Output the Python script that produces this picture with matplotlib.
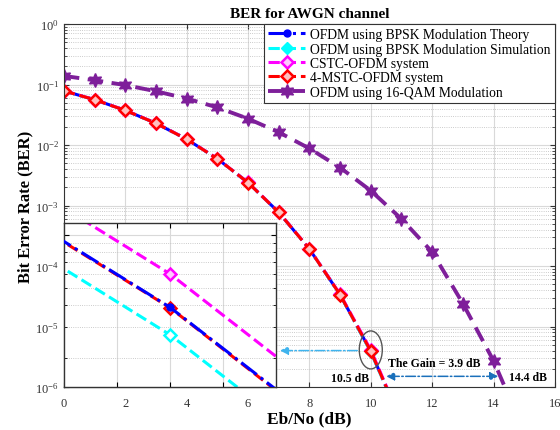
import matplotlib
matplotlib.use('Agg')
import matplotlib.pyplot as plt
import matplotlib.transforms as mtransforms
from matplotlib.patches import Ellipse
from matplotlib.ticker import LogLocator, NullFormatter, FixedLocator

plt.rcParams['font.family'] = ['Liberation Serif', 'DejaVu Serif']
plt.rcParams['mathtext.fontset'] = 'custom'
plt.rcParams['mathtext.rm'] = 'Liberation Serif'

# Eb/No axis (dB)
snr = [0, 1, 2, 3, 4, 5, 6, 7, 8, 9, 10, 11]
snr_qam = [0, 1, 2, 3, 4, 5, 6, 7, 8, 9, 10, 11, 12, 13, 14, 15]

# BER values
ber_theory = [0.0786, 0.0563, 0.0375, 0.0229, 0.0125, 0.00595, 0.00239,
              7.73e-4, 1.91e-4, 3.36e-5, 3.87e-6, 2.61e-7]
ber_sim = [0.0788, 0.0561, 0.0376, 0.0228, 0.0126, 0.00593, 0.00240,
           7.70e-4, 1.92e-4, 3.34e-5, 3.80e-6, 2.55e-7]
ber_cstc = [0.0790, 0.0565, 0.0377, 0.0230, 0.0126, 0.00597, 0.00241,
            7.78e-4, 1.93e-4, 3.42e-5, 4.10e-6, 2.70e-7]
ber_mstc = [0.0785, 0.0562, 0.0374, 0.0229, 0.0125, 0.00594, 0.00239,
            7.72e-4, 1.91e-4, 3.35e-5, 3.90e-6, 2.60e-7]
ber_qam = [0.139, 0.118, 0.098, 0.0775, 0.0588, 0.0419, 0.0273, 0.0163,
           0.00878, 0.00424, 0.00176, 6.0e-4, 1.7e-4, 2.4e-5, 2.7e-6, 1.8e-7]

# zoomed inset around Eb/No = 10 dB
inset_snr = [9, 10, 11]
inset_theory = [3.36e-5, 3.87e-6, 2.61e-7]
inset_sim = [2.35e-5, 2.70e-6, 1.80e-7]
inset_cstc = [5.20e-5, 6.00e-6, 4.00e-7]
inset_mstc = [3.30e-5, 3.85e-6, 2.55e-7]

labels = ['OFDM using BPSK Modulation Theory',
          'OFDM using BPSK Modulation Simulation',
          'CSTC-OFDM system',
          '4-MSTC-OFDM system',
          'OFDM using 16-QAM Modulation']

purple = '#7e1f9a'
star = (6, 1, 0)

fig = plt.figure(figsize=(5.6, 4.31), dpi=100)
ax = fig.add_axes([0.114, 0.0998, 0.877, 0.842])

ax.semilogy(snr, ber_theory, '-.', color='blue', lw=2.2, marker='o', ms=5,
            mfc='blue', label=labels[0])
ax.semilogy(snr, ber_sim, '--', color='cyan', lw=2.2, marker='D', ms=6,
            mfc='cyan', label=labels[1])
ax.semilogy(snr, ber_cstc, '--', color='magenta', lw=2.2, marker='D', ms=6.5,
            mfc='#ffc8ff', mew=1.8, label=labels[2])
ax.semilogy(snr, ber_mstc, '--', color='red', lw=2.2, marker='D', ms=6,
            mfc='#ffc0c0', mew=1.8, label=labels[3])
ax.semilogy(snr_qam, ber_qam, '--', color=purple, lw=2.8, marker=star, ms=10,
            dashes=(4, 2.2), label=labels[4])

ax.set_xlim(0, 16)
ax.set_ylim(1e-6, 1)
ax.set_xticks(range(0, 17, 2))
ax.yaxis.set_major_locator(LogLocator(base=10, numticks=10))
ax.yaxis.set_minor_locator(LogLocator(base=10, subs=range(2, 10), numticks=20))
ax.yaxis.set_minor_formatter(NullFormatter())
ax.grid(True, which='major', color='#d9d9d9', lw=0.8)
ax.grid(True, which='minor', axis='y', color='#bbbbbb', lw=0.6, ls=':')
ax.tick_params(which='both', direction='in', top=True, right=True,
               labelsize=9, colors='#333333')
ax.tick_params(axis='x', pad=7)
ax.tick_params(which='minor', length=2)
for sp in ax.spines.values():
    sp.set_color('#333333')

ax.set_title('BER for AWGN channel', fontsize=11, fontweight='bold', pad=5)
ax.set_xlabel('Eb/No (dB)', fontsize=12.5, fontweight='bold', labelpad=1)
ax.set_ylabel('Bit Error Rate (BER)', fontsize=12, fontweight='bold', labelpad=1)

leg = ax.legend(loc='upper right', fontsize=9.8, handlelength=2.7,
                labelspacing=0.1, borderaxespad=0, fancybox=False,
                framealpha=1, edgecolor='#333333', borderpad=0.3,
                handletextpad=0.4)
leg.get_frame().set_linewidth(0.8)

# annotations near the 1e-6 crossing
trans = fig.dpi_scale_trans + mtransforms.ScaledTranslation(10, 4.1e-6, ax.transData)
ax.add_artist(Ellipse((0, 0), 0.23, 0.38, transform=trans, fill=False,
                      edgecolor='#555555', lw=1, zorder=6))
ax.annotate('', xy=(6.95, 4.0e-6), xytext=(9.65, 4.0e-6),
            arrowprops=dict(arrowstyle='-|>', ls='-.', color='#40b4ee', lw=1.1,
                            mutation_scale=12))
ax.annotate('', xy=(10.5, 1.5e-6), xytext=(14.15, 1.5e-6),
            arrowprops=dict(arrowstyle='<|-|>', ls='-.', color='#1a70bb', lw=1.1,
                            mutation_scale=12, shrinkA=0, shrinkB=0))
ax.text(10.56, 2.5e-6, 'The Gain = 3.9 dB', fontsize=8.5, fontweight='bold',
        va='center', ha='left')
ax.text(9.32, 1.42e-6, '10.5 dB', fontsize=8.5, fontweight='bold',
        va='center', ha='center')
ax.text(15.12, 1.45e-6, '14.4 dB', fontsize=8.5, fontweight='bold',
        va='center', ha='center')

# inset
axin = ax.inset_axes([0, 0, 0.432, 0.452])
axin.semilogy(inset_snr, inset_theory, '-.', color='blue', lw=2.2, marker='o',
              ms=5, mfc='blue', zorder=3)
axin.semilogy(inset_snr, inset_sim, '--', color='cyan', lw=2.2, marker='D',
              ms=6, mfc='white', mew=1.8)
axin.semilogy(inset_snr, inset_cstc, '--', color='magenta', lw=2.2, marker='D',
              ms=6, mfc='#ffc8ff', mew=1.8)
axin.semilogy(inset_snr, inset_mstc, '--', color='red', lw=2.2, marker='D',
              ms=6, mfc='#ffc0c0', mew=1.8, zorder=2)
axin.set_xlim(9.6, 10.4)
axin.set_ylim(1.36e-6, 1.17e-5)
axin.xaxis.set_major_locator(FixedLocator([9.8, 10.0, 10.2]))
axin.xaxis.set_major_formatter(NullFormatter())
axin.yaxis.set_major_formatter(NullFormatter())
axin.yaxis.set_minor_formatter(NullFormatter())
axin.grid(True, which='major', color='#d9d9d9', lw=0.8)
axin.grid(True, which='minor', axis='y', color='#bbbbbb', lw=0.6, ls=':')
axin.tick_params(which='both', direction='in', top=True, right=True,
                 labelbottom=False, labelleft=False)
for sp in axin.spines.values():
    sp.set_color('#333333')
    sp.set_linewidth(1.0)

fig.savefig('out.png', dpi=100)
